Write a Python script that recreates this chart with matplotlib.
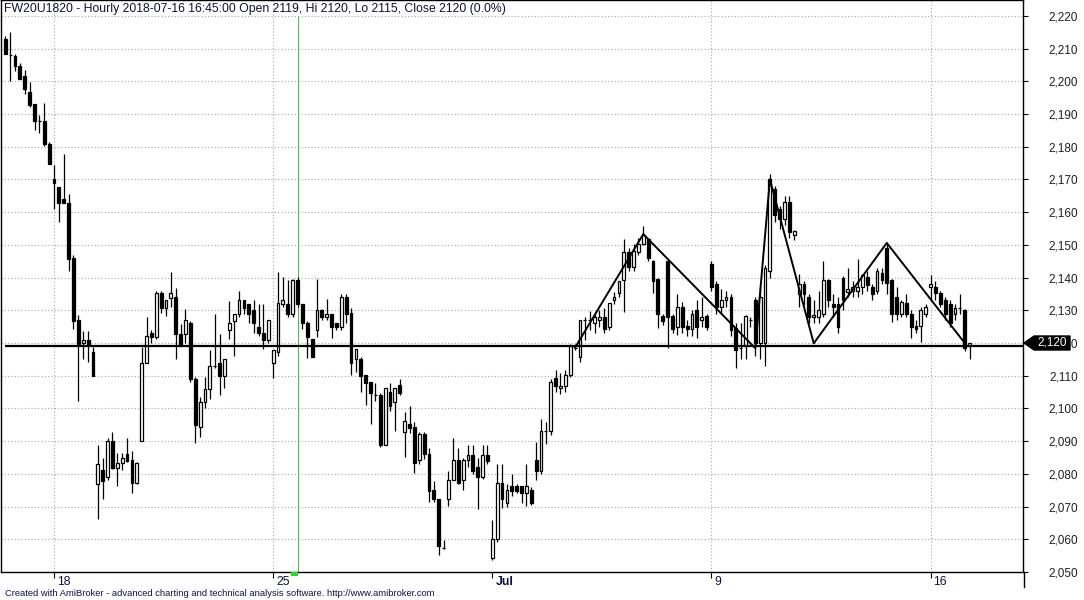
import matplotlib
matplotlib.use("Agg")
import matplotlib.pyplot as plt
from matplotlib.patches import Polygon, Rectangle
from matplotlib.lines import Line2D
import matplotlib.transforms as mtransforms

# ---------------- data ----------------
title_text = "FW20U1820 - Hourly 2018-07-16 16:45:00 Open 2119, Hi 2120, Lo 2115, Close 2120 (0.0%)"
footer_text = "Created with AmiBroker - advanced charting and technical analysis software. http://www.amibroker.com"

opens = [2213, 2208, 2207.9, 2204.8, 2201.8, 2196.9, 2193, 2188, 2188, 2181,
         2170, 2167.8, 2164, 2162.9, 2145.9, 2126.9, 2120, 2121, 2117.1, 2077,
         2081.2, 2079.1, 2089.9, 2081.9, 2083.2, 2086.1, 2084.2, 2077.1, 2090, 2114,
         2123, 2121.9, 2135.3, 2130.8, 2133.9, 2134, 2122.9, 2122.8, 2126, 2109.1,
         2094.2, 2102, 2106, 2113.1, 2114, 2110, 2123.9, 2126.8, 2129, 2133,
         2132, 2130, 2125, 2123, 2121, 2114, 2117.1, 2132, 2132, 2129,
         2139.2, 2132, 2126, 2121.2, 2124.1, 2130, 2128, 2129, 2126, 2125,
         2134.1, 2129.1, 2115, 2115, 2110.1, 2108, 2104, 2104, 2088.8, 2105,
         2102, 2107.1, 2092.9, 2095.1, 2094.2, 2084.1, 2092.1, 2086, 2075, 2072.2,
         2057.2, 2072.2, 2078, 2084.1, 2078, 2084.1, 2085.9, 2082, 2079.1, 2085.9,
         2054.1, 2060, 2077.1, 2071, 2076.3, 2076.3, 2076.3, 2074, 2075, 2084.2,
         2081, 2093, 2093.1, 2109.2, 2106.1, 2107, 2110.1, 2118.4, 2115.8, 2127,
         2127, 2126, 2127, 2128, 2125, 2133, 2135.2, 2139.3, 2147.9, 2143.1,
         2147.9, 2150.3, 2151.7, 2145.1, 2139.5, 2128.2, 2145.2, 2128.2, 2125, 2130.9,
         2125.2, 2124.2, 2130.1, 2127, 2128.2, 2144.1, 2138, 2131, 2133, 2134,
         2124.5, 2118.4, 2119, 2127, 2133, 2120, 2120, 2142, 2167, 2161,
         2158, 2163, 2153, 2135, 2138, 2134, 2128, 2128, 2129, 2139.3,
         2132, 2132, 2140, 2135.5, 2136, 2136, 2137, 2140.3, 2137, 2136,
         2141.3, 2149, 2139.3, 2134, 2129, 2132.3, 2129, 2125.3, 2125.3, 2129,
         2137, 2137.2, 2135.2, 2133, 2132, 2129, 2130.8, 2130, 2119]
highs = [2214, 2215, 2208.5, 2205.5, 2203.6, 2199.9, 2193, 2189.6, 2193.5, 2181.6,
         2174.5, 2167.8, 2177.7, 2165.6, 2146.8, 2128.7, 2123.8, 2123.8, 2118.8, 2088.7,
         2084.7, 2091, 2092.8, 2086.3, 2086.3, 2091, 2087, 2083.5, 2118.8, 2127.8,
         2124, 2135.9, 2135.9, 2133, 2141.7, 2136.7, 2125.8, 2130.5, 2126.7, 2109.6,
         2103.5, 2109.6, 2117.8, 2128.8, 2122.6, 2115, 2132.8, 2129, 2135.9, 2133,
         2132, 2133, 2131.9, 2131.9, 2127, 2118, 2141.6, 2140.2, 2139.2, 2139.7,
         2140.2, 2132, 2126.8, 2121.2, 2139.7, 2130.5, 2133.6, 2129, 2126, 2135,
         2135, 2130.6, 2118.1, 2115.6, 2110.1, 2108, 2107.7, 2104.6, 2106.2, 2107.7,
         2106.2, 2109, 2098.9, 2100.6, 2095.8, 2092.8, 2092.8, 2087.8, 2077.8, 2072.2,
         2059.8, 2080.9, 2091, 2087.9, 2084.8, 2088.8, 2088.8, 2084.7, 2088.8, 2088.8,
         2065.9, 2082.9, 2082.9, 2076.8, 2079.9, 2076.8, 2076.3, 2082.9, 2076, 2089.8,
         2096.7, 2095.8, 2108.9, 2111.7, 2110.7, 2111.7, 2119.7, 2119.7, 2127, 2128,
         2129.8, 2129, 2130, 2130.6, 2132.3, 2135.7, 2139, 2151.8, 2148.9, 2150.2,
         2152, 2155.8, 2152, 2145.5, 2140, 2129, 2145.2, 2129, 2135, 2132.6,
         2127, 2130.1, 2133.1, 2134, 2129, 2145.2, 2139, 2136.5, 2136, 2135,
         2126, 2126, 2128.5, 2128, 2134, 2137, 2144, 2171.7, 2168, 2162,
         2165, 2165, 2154.5, 2141, 2139, 2135, 2133, 2136, 2145, 2139.5,
         2135, 2134, 2140.5, 2143, 2139, 2145.6, 2141, 2142, 2138, 2143,
         2143, 2150.7, 2139.5, 2137, 2133, 2135, 2130, 2127, 2131, 2132,
         2140.8, 2139, 2136, 2134, 2133, 2132, 2135, 2130.5, 2120]
lows = [2208.5, 2200, 2203.2, 2200.8, 2196.1, 2192.2, 2185.1, 2184.2, 2180.2, 2174.7,
        2160.9, 2157, 2162.8, 2142, 2124.3, 2102.3, 2115, 2114.2, 2110, 2066.3,
        2072.4, 2078.1, 2081.5, 2076.4, 2081.2, 2083.5, 2074.2, 2077, 2089.9, 2114,
        2120, 2121.3, 2129.3, 2128.2, 2131.1, 2115.2, 2119, 2120, 2108.1, 2089.3,
        2091.3, 2100, 2103, 2112.5, 2104.1, 2106.3, 2121.3, 2116.1, 2128, 2129,
        2126, 2123, 2122, 2118.3, 2120, 2109.4, 2116, 2131, 2128, 2128,
        2131, 2124.4, 2115.3, 2115.8, 2121.9, 2127, 2127, 2121.4, 2124, 2124,
        2126, 2110.2, 2111.2, 2105.1, 2101, 2095.2, 2102.4, 2088.3, 2088.8, 2099.2,
        2093.2, 2104.1, 2085.2, 2092.4, 2080.3, 2083, 2084.4, 2071.3, 2071.5, 2055.2,
        2057, 2070.2, 2078, 2077, 2075, 2082.2, 2080, 2069.3, 2078.3, 2083,
        2053.6, 2059, 2069.4, 2070, 2073.2, 2074.2, 2071.2, 2070.2, 2070.5, 2078.1,
        2080, 2089.1, 2092, 2105, 2104.4, 2105, 2109.7, 2118, 2114.3, 2121,
        2124, 2123.2, 2125, 2123.2, 2124, 2132, 2134, 2129.4, 2142, 2142,
        2147, 2150, 2145, 2135.4, 2124.5, 2125.5, 2118.4, 2123, 2122.4, 2123.2,
        2122, 2122, 2121.4, 2125, 2124, 2136, 2129, 2129, 2131, 2122,
        2112.3, 2115, 2115, 2125, 2116, 2115, 2113, 2140, 2157, 2155,
        2156, 2152, 2151.5, 2131, 2131.6, 2126, 2126, 2126, 2128, 2131,
        2128, 2123, 2130, 2134, 2134, 2134, 2135, 2136, 2133, 2135,
        2138, 2135, 2126.5, 2127, 2128, 2128, 2121.4, 2123, 2120.4, 2128,
        2133, 2133, 2131, 2127, 2125, 2127, 2129, 2117.4, 2115]
closes = [2208.5, 2208, 2204.7, 2200.8, 2197.7, 2192.9, 2187.9, 2188, 2180.8, 2174.7,
          2169, 2162.8, 2162.8, 2145.7, 2126.7, 2119.8, 2121, 2119.3, 2110, 2083,
          2077.9, 2089.9, 2081.9, 2083.2, 2084.9, 2083.9, 2077.1, 2083.3, 2114, 2122.1,
          2121.9, 2135.3, 2130.8, 2133, 2135.2, 2122.8, 2119.1, 2126.9, 2109, 2095,
          2102.1, 2106, 2113.1, 2113.1, 2110, 2115, 2126, 2129, 2133, 2130.8,
          2129, 2126, 2123, 2121, 2126.9, 2118, 2132.1, 2133, 2129, 2139.2,
          2132, 2126, 2121.9, 2115.8, 2130, 2128, 2129, 2125, 2125, 2134.1,
          2129, 2114, 2118.1, 2110, 2107.9, 2104.8, 2104, 2088.8, 2106.2, 2100.8,
          2106.2, 2104.8, 2096.2, 2094.1, 2083.2, 2092.1, 2086, 2074.8, 2072.2, 2057.9,
          2057.2, 2078, 2084.1, 2077.1, 2084.1, 2085.9, 2081, 2079.1, 2085.9, 2084,
          2060, 2077.1, 2072.2, 2075, 2074.8, 2074.8, 2074, 2076.3, 2071, 2081,
          2093.1, 2093, 2108, 2107, 2106.9, 2110.1, 2119.2, 2118.4, 2127, 2127,
          2127, 2128, 2128, 2124.2, 2132.3, 2134, 2139, 2147.9, 2143.1, 2148.2,
          2150.2, 2153, 2145.9, 2139, 2129, 2126.8, 2128, 2124.2, 2130.9, 2125,
          2124.2, 2128.9, 2125, 2128, 2125, 2137, 2131, 2133, 2134, 2124,
          2118, 2118.4, 2128.3, 2127, 2120, 2134, 2143, 2170, 2159, 2158,
          2163, 2154, 2154.2, 2138, 2135, 2128, 2128.5, 2130, 2139.3, 2133,
          2131, 2125, 2133, 2136.5, 2137, 2137.2, 2140.8, 2137.7, 2135, 2142,
          2139.3, 2138.3, 2129, 2129, 2132.6, 2129, 2125, 2124.2, 2130.1, 2131,
          2138, 2135.2, 2132, 2129, 2126, 2130.6, 2130.8, 2118.4, 2120]

date_tick_idx = [10, 55, 100, 145, 190]
date_tick_labels = ["18", "25", "Jul", "9", "16"]
date_tick_bold = [False, False, True, False, False]
grid_x_idx = [10, 55, 145, 190]

price_ticks = list(range(2050, 2230, 10))
hline_level = 2119.2
zigzag_idx = [117, 131, 154, 157, 166, 181, 197]
zigzag_price = [2118.6, 2153.3, 2118.4, 2170.0, 2119.9, 2150.6, 2120.0]
selected_idx = 60
last_close_label = "2,120"

# ---------------- figure ----------------
W, H = 1084, 600
fig = plt.figure(figsize=(W / 100, H / 100), dpi=100)
fig.patch.set_facecolor("white")
FONT = "Liberation Sans"

ax = fig.add_axes([0.5 / W, 28 / H, 1022.5 / W, 572 / H])
ax.set_facecolor("white")
ax.set_xlim(-0.986, 208.97)
ax.set_ylim(2049.97, 2224.89)

# grid
for p in price_ticks:
    ax.axhline(p, color="#a8a8a8", lw=0.8, ls=(0, (1, 2)), zorder=1)
for gi in grid_x_idx:
    ax.axvline(gi, color="#a8a8a8", lw=0.8, ls=(0, (1, 2)), zorder=1)

# selected-bar green line
ax.vlines(selected_idx, 2050, 2220, color="#40c040", lw=0.7, zorder=2)

# candles
n = len(opens)
idx = list(range(n))
ax.vlines(idx, lows, highs, color="black", lw=0.9, zorder=3)
bw = 0.58
for i in idx:
    o, c = opens[i], closes[i]
    up = c >= o
    ax.bar(i, abs(c - o), bottom=min(o, c), width=bw,
           facecolor="white" if up else "black", edgecolor="black",
           linewidth=0.9, zorder=4)

# support line and zigzag
ax.plot([0, 209.2], [hline_level, hline_level], color="black", lw=1.6,
        zorder=5, clip_on=False, solid_capstyle="butt")
ax.plot(zigzag_idx, zigzag_price, color="black", lw=1.4, zorder=5)

# axes styling
for s in ["left", "top", "right", "bottom"]:
    ax.spines[s].set_color("black")
    ax.spines[s].set_linewidth(1.0)
ax.yaxis.tick_right()
ax.set_yticks(price_ticks)
ax.set_yticklabels(["{:,}".format(p) for p in price_ticks])
ax.tick_params(axis="y", direction="out", length=3.5, width=0.8, pad=36,
               labelsize=8.5, labelcolor="#202020")
for lab in ax.get_yticklabels():
    lab.set_horizontalalignment("right")
    lab.set_fontfamily(FONT)

ax.set_xticks(date_tick_idx)
ax.set_xticklabels(date_tick_labels)
ax.tick_params(axis="x", direction="out", length=4, width=0.8, pad=-1,
               labelsize=8.8, labelcolor="#101040")
shift = mtransforms.ScaledTranslation(3 / 100, 0, fig.dpi_scale_trans)
for lab, b in zip(ax.get_xticklabels(), date_tick_bold):
    lab.set_horizontalalignment("left")
    lab.set_fontfamily(FONT)
    lab.set_transform(lab.get_transform() + shift)
    if b:
        lab.set_fontweight("bold")

# right axis line extends below plot
fig.add_artist(Line2D([1023.5 / W, 1023.5 / W], [1 - 587 / H, 28 / H],
                      color="black", lw=1.0, transform=fig.transFigure))

# green marker on x axis
fig.add_artist(Rectangle((291 / W, 1 - 576 / H), 7 / W, 4 / H,
                         facecolor="#22dd22", edgecolor="none",
                         transform=fig.transFigure))

# last price label on right axis
fig.canvas.draw()
ypix = ax.transData.transform((0, closes[-1]))[1]
pts = [(1024, ypix), (1034, ypix + 7), (1070, ypix + 7), (1070, ypix - 7), (1034, ypix - 7)]
fig.add_artist(Polygon(pts, closed=True, facecolor="black", edgecolor="black",
                       transform=None, zorder=10))
fig.text(1052 / W, ypix / H, last_close_label, color="white", fontsize=8.5,
         family=FONT, ha="center", va="center", zorder=11)

# title and footer
fig.text(4 / W, 1 - 3 / H, title_text, fontsize=8.85, family=FONT,
         color="#10103a", ha="left", va="top")
fig.text(5 / W, 1 - 598 / H, footer_text, fontsize=6.75, family=FONT,
         color="#10104a", ha="left", va="bottom")

fig.savefig("out.png", dpi=100, facecolor="white")
